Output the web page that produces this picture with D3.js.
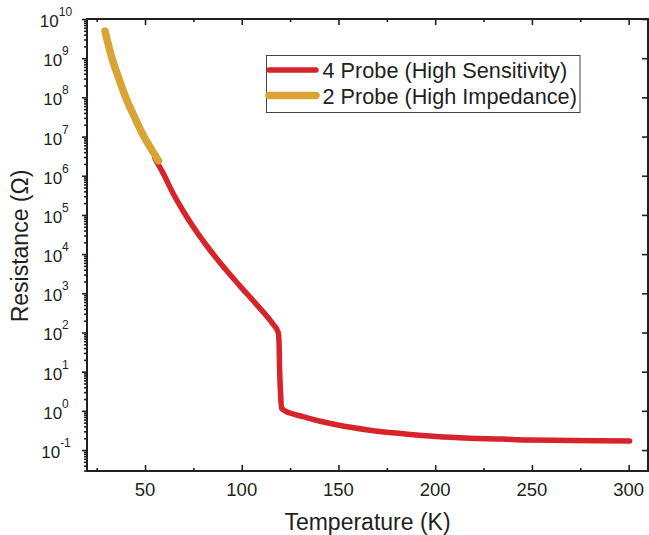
<!DOCTYPE html>
<html>
<head>
<meta charset="utf-8">
<script src="https://cdn.jsdelivr.net/npm/d3@7"></script>
<style>
  html, body { margin: 0; padding: 0; background: #fff; }
  svg { display: block; font-family: "Liberation Sans", Arial, sans-serif; }
</style>
</head>
<body>
<svg id="chart" width="649" height="535"></svg>
<script>
// ---- data ----
const redTemps = [55, 57.2, 59.4, 64.6, 69.7, 74.9, 81.8, 90.4, 99.0, 107.7, 116.2, 118.8, 119.2, 119.6, 120.1, 120.6, 121.4, 123.1, 126, 131.7, 140, 149, 166.2, 183.4, 200.6, 217.8, 235, 247.1, 270, 300.5];
const redRes   = [2.9e6, 1.8e6, 1.15e6, 3.47e5, 1.26e5, 5.0e4, 1.66e4, 4.8e3, 1.55e3, 513, 162, 102, 70, 10, 2.5, 1.17, 1.07, 0.95, 0.85, 0.71, 0.55, 0.44, 0.32, 0.26, 0.22, 0.20, 0.19, 0.18, 0.176, 0.17];
const goldTemps = [29.3, 32.9, 36.3, 40.0, 44.5, 49.4, 53.0, 57.0];
const goldRes   = [4.9e9, 1.0e9, 3.2e8, 1.0e8, 3.2e7, 1.0e7, 5.0e6, 2.4e6];
const xTickValues = [50, 100, 150, 200, 250, 300];
const xMinorValues = [25, 75, 125, 175, 225, 275];
const yExponents = [10, 9, 8, 7, 6, 5, 4, 3, 2, 1, 0, -1];
const seriesNames = ["4 Probe (High Sensitivity)", "2 Probe (High Impedance)"];
const seriesColors = ["#d7232a", "#d9a434"];

// ---- layout ----
const svg = d3.select("#chart");
const L = 87, R = 648, T = 19, B = 471;
const axisColor = "#231f20";

const x = d3.scaleLinear().domain([20, 310]).range([L, R]);
const y = d3.scaleLog().domain([Math.pow(10, -1.535), 1e10]).range([B, T]);

const yMajors = yExponents.map(e => Math.pow(10, e));
const yMinors = [];
for (let e = -2; e <= 9; e++) for (let m = 2; m <= 9; m++) {
  const v = m * Math.pow(10, e);
  if (v >= y.domain()[0] && v <= 1e10) yMinors.push(v);
}

function styleAxis(g) {
  g.select(".domain").remove();
  g.selectAll(".tick line").attr("stroke", axisColor).attr("stroke-width", 1.6);
}

// left axis (outward ticks)
svg.append("g").attr("transform", `translate(${L},0)`)
  .call(d3.axisLeft(y).tickValues(yMajors).tickSize(5).tickFormat("")).call(styleAxis);
svg.append("g").attr("transform", `translate(${L},0)`)
  .call(d3.axisLeft(y).tickValues(yMinors).tickSize(3).tickFormat("")).call(styleAxis);
// right axis (inward majors)
svg.append("g").attr("transform", `translate(${R},0)`)
  .call(d3.axisLeft(y).tickValues(yMajors).tickSize(6).tickFormat("")).call(styleAxis);
// bottom axis (inward)
svg.append("g").attr("transform", `translate(0,${B})`)
  .call(d3.axisTop(x).tickValues(xTickValues).tickSize(6).tickFormat("")).call(styleAxis);
svg.append("g").attr("transform", `translate(0,${B})`)
  .call(d3.axisTop(x).tickValues(xMinorValues).tickSize(3).tickFormat("")).call(styleAxis);
// top axis (inward)
svg.append("g").attr("transform", `translate(0,${T})`)
  .call(d3.axisBottom(x).tickValues(xTickValues).tickSize(6).tickFormat("")).call(styleAxis);
svg.append("g").attr("transform", `translate(0,${T})`)
  .call(d3.axisBottom(x).tickValues(xMinorValues).tickSize(3).tickFormat("")).call(styleAxis);

// frame
svg.append("rect").attr("x", L).attr("y", T).attr("width", R - L).attr("height", B - T)
  .attr("fill", "none").attr("stroke", axisColor).attr("stroke-width", 2);

// x tick labels
svg.append("g").selectAll("text").data(xTickValues).join("text")
  .attr("x", d => x(d)).attr("y", 495.5)
  .attr("text-anchor", "middle").attr("font-size", 18.5).attr("fill", axisColor)
  .text(d => d);

// y tick labels
const yl = svg.append("g").selectAll("text").data(yExponents).join("text")
  .attr("x", 56).attr("y", d => y(Math.pow(10, d)) + 8)
  .attr("text-anchor", "middle").attr("fill", axisColor).attr("font-size", 17);
yl.append("tspan").text("10");
yl.append("tspan").attr("font-size", 12).attr("dy", -11).text(d => d < 0 ? "-" + Math.abs(d) : d);

// axis titles
svg.append("text").attr("x", 367.5).attr("y", 530).attr("text-anchor", "middle")
  .attr("font-size", 23).attr("fill", axisColor).text("Temperature (K)");
svg.append("text").attr("transform", "translate(28,246) rotate(-90)").attr("text-anchor", "middle")
  .attr("font-size", 23).attr("fill", axisColor).text("Resistance (Ω)");

// lines
const line = d3.line().x(d => x(d[0])).y(d => y(d[1])).curve(d3.curveMonotoneX);
const redData = redTemps.map((t, i) => [t, redRes[i]]);
const goldData = goldTemps.map((t, i) => [t, goldRes[i]]);
svg.append("path").datum(redData).attr("d", line).attr("fill", "none")
  .attr("stroke", seriesColors[0]).attr("stroke-width", 5.5)
  .attr("stroke-linecap", "round").attr("stroke-linejoin", "round");
svg.append("path").datum(goldData).attr("d", line).attr("fill", "none")
  .attr("stroke", seriesColors[1]).attr("stroke-width", 7.5)
  .attr("stroke-linecap", "round").attr("stroke-linejoin", "round");

// legend
const lg = svg.append("g");
lg.append("rect").attr("x", 266.5).attr("y", 55.5).attr("width", 313.5).attr("height", 57)
  .attr("fill", "#fff").attr("stroke", "#444").attr("stroke-width", 1);
const legY = [70, 95.5];
const legW = [5.5, 7.5];
seriesNames.forEach((name, i) => {
  lg.append("line").attr("x1", 269).attr("x2", 316).attr("y1", legY[i]).attr("y2", legY[i])
    .attr("stroke", seriesColors[i]).attr("stroke-width", legW[i]).attr("stroke-linecap", "round");
  lg.append("text").attr("x", 322.5).attr("y", legY[i] + 8.3)
    .attr("font-size", 21.7).attr("fill", axisColor).text(name);
});
</script>
</body>
</html>
